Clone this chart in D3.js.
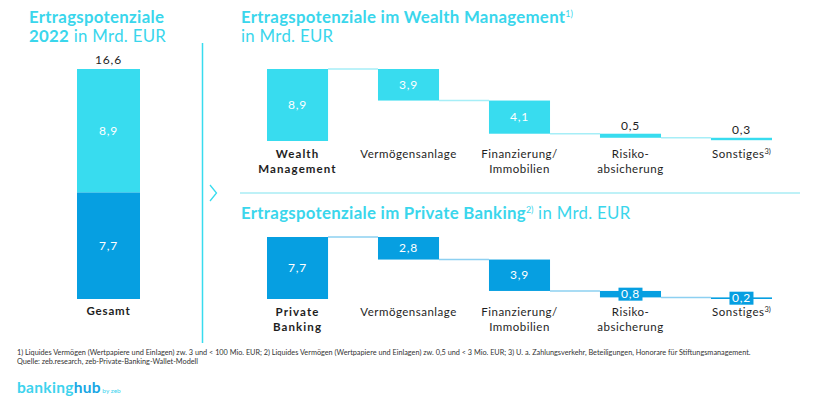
<!DOCTYPE html>
<html>
<head>
<meta charset="utf-8">
<script src="https://cdn.jsdelivr.net/npm/d3@7"></script>
<style>
  html, body { margin: 0; padding: 0; background: #fff; }
  svg { display: block; font-family: Lato, "Open Sans", sans-serif; }
</style>
</head>
<body>
<svg id="chart" width="825" height="413"></svg>
<script>
// ---------- data ----------
const totalSegments = ["Private Banking", "Wealth Management"];
const totalValues = [7.7, 8.9];
const totalLabel = "16,6";
const totalCategory = "Gesamt";

const wmCategories = [["Wealth", "Management"], ["Vermögensanlage"], ["Finanzierung/", "Immobilien"], ["Risiko-", "absicherung"], ["Sonstiges"]];
const wmValues = [8.9, 3.9, 4.1, 0.5, 0.3];

const pbCategories = [["Private", "Banking"], ["Vermögensanlage"], ["Finanzierung/", "Immobilien"], ["Risiko-", "absicherung"], ["Sonstiges"]];
const pbValues = [7.7, 2.8, 3.9, 0.8, 0.2];

const footnoteSup = ["", "", "", "", "3)"];
const footnotes = [
  "1) Liquides Vermögen (Wertpapiere und Einlagen) zw. 3 und < 100 Mio. EUR;  2) Liquides Vermögen (Wertpapiere und Einlagen) zw. 0,5 und < 3 Mio. EUR;  3) U. a. Zahlungsverkehr, Beteiligungen, Honorare für Stiftungsmanagement.",
  "Quelle: zeb.research, zeb-Private-Banking-Wallet-Modell"
];

// ---------- styles ----------
const CYAN = "#38dcef";
const BLUE = "#069fe1";
const TITLE = "#3ad6ec";
const TEXT = "#1e1e1e";
const fmt = v => d3.format(".1f")(v).replace(".", ",");

const svg = d3.select("#chart");

// ---------- left titles ----------
const TS = 16.8, TLS = 0.3;
const lt = svg.append("text").attr("x", 29).attr("y", 23).attr("fill", TITLE).attr("font-size", TS).attr("letter-spacing", TLS);
lt.append("tspan").attr("font-weight", 700).text("Ertragspotenziale");
const lt2 = svg.append("text").attr("x", 29).attr("y", 42).attr("fill", TITLE).attr("font-size", TS).attr("letter-spacing", TLS);
lt2.append("tspan").attr("font-weight", 700).text("2022");
lt2.append("tspan").attr("font-weight", 400).text(" in Mrd. EUR");

// ---------- stacked total bar ----------
const yTot = d3.scaleLinear().domain([0, d3.sum(totalValues)]).range([299, 69]);
const xTot = d3.scaleBand().domain([totalCategory]).range([77, 140]).padding(0);
let acc = 0;
const stack = totalValues.map((v, i) => { const s = { v, y0: acc, y1: acc + v, i }; acc += v; return s; });
const totColors = [BLUE, CYAN];
svg.append("g").selectAll("rect").data(stack).join("rect")
  .attr("x", xTot(totalCategory)).attr("width", xTot.bandwidth())
  .attr("y", d => yTot(d.y1)).attr("height", d => yTot(d.y0) - yTot(d.y1))
  .attr("fill", d => totColors[d.i]);
svg.append("g").selectAll("text").data(stack).join("text")
  .attr("x", xTot(totalCategory) + xTot.bandwidth() / 2)
  .attr("y", d => (yTot(d.y0) + yTot(d.y1)) / 2 + 4)
  .attr("text-anchor", "middle").attr("fill", "#fff").attr("font-size", 12).attr("letter-spacing", 0.8)
  .text(d => fmt(d.v));
svg.append("text").attr("x", xTot(totalCategory) + xTot.bandwidth() / 2).attr("y", yTot(d3.sum(totalValues)) - 5)
  .attr("text-anchor", "middle").attr("fill", TEXT).attr("font-size", 12).attr("letter-spacing", 0.8).text(totalLabel);
svg.append("text").attr("x", xTot(totalCategory) + xTot.bandwidth() / 2).attr("y", 315)
  .attr("text-anchor", "middle").attr("fill", TEXT).attr("font-size", 11.5).attr("font-weight", 700).attr("letter-spacing", 0.8).text(totalCategory);

// divider + chevron
svg.append("line").attr("x1", 202.5).attr("x2", 202.5).attr("y1", 43).attr("y2", 343).attr("stroke", CYAN).attr("stroke-width", 1.5);
svg.append("path").attr("d", "M210,185 L216.5,193 L210,201").attr("fill", "none").attr("stroke", CYAN).attr("stroke-width", 1.3);

// ---------- right titles ----------
const rt = svg.append("text").attr("x", 241).attr("y", 23).attr("fill", TITLE).attr("font-size", TS).attr("letter-spacing", TLS);
rt.append("tspan").attr("font-weight", 700).text("Ertragspotenziale im Wealth Management");
rt.append("tspan").attr("font-size", 9).attr("dy", -6).attr("font-weight", 400).attr("letter-spacing", 0).text("1)");
svg.append("text").attr("x", 241).attr("y", 42).attr("fill", TITLE).attr("font-size", TS).attr("letter-spacing", TLS).text("in Mrd. EUR");

svg.append("line").attr("x1", 240).attr("x2", 800).attr("y1", 193).attr("y2", 193).attr("stroke", "#a9ecf5").attr("stroke-width", 1.5);

const pt = svg.append("text").attr("x", 241).attr("y", 219).attr("fill", TITLE).attr("font-size", TS).attr("letter-spacing", TLS);
pt.append("tspan").attr("font-weight", 700).text("Ertragspotenziale im Private Banking");
pt.append("tspan").attr("font-size", 9).attr("dy", -6).attr("letter-spacing", 0).text("2)");
pt.append("tspan").attr("dy", 6).text(" in Mrd. EUR");

// ---------- waterfall ----------
function waterfall(cats, vals, yBottom, yTop, color, connColor, smallStyle) {
  const keys = cats.map((c, i) => i);
  const x = d3.scaleBand().domain(keys).range([267, 772]).paddingInner(0.45).paddingOuter(0);
  const y = d3.scaleLinear().domain([0, vals[0]]).range([yBottom, yTop]);
  let level = vals[0];
  const bars = vals.map((v, i) => {
    if (i === 0) return { i, v, hi: v, lo: 0 };
    const b = { i, v, hi: level, lo: level - v };
    level -= v;
    return b;
  });
  const g = svg.append("g");
  // connectors
  g.selectAll("line.conn").data(bars.slice(0, -1)).join("line")
    .attr("x1", d => x(d.i) + x.bandwidth()).attr("x2", d => x(d.i + 1))
    .attr("y1", d => y(d.i === 0 ? d.hi : d.lo)).attr("y2", d => y(d.i === 0 ? d.hi : d.lo))
    .attr("stroke", connColor).attr("stroke-width", 1.5);
  g.selectAll("rect.bar").data(bars).join("rect")
    .attr("x", d => x(d.i)).attr("width", x.bandwidth())
    .attr("y", d => y(d.hi)).attr("height", d => Math.max(1.5, y(d.lo) - y(d.hi)))
    .attr("fill", color);
  bars.forEach(d => {
    const cx = x(d.i) + x.bandwidth() / 2;
    const h = y(d.lo) - y(d.hi);
    if (h > 14) {
      g.append("text").attr("x", cx).attr("y", (y(d.lo) + y(d.hi)) / 2 + 4)
        .attr("text-anchor", "middle").attr("fill", "#fff").attr("font-size", 12).attr("letter-spacing", 0.8)
        .text(fmt(d.v));
    } else if (smallStyle === "above") {
      g.append("text").attr("x", cx).attr("y", y(d.hi) - 4)
        .attr("text-anchor", "middle").attr("fill", TEXT).attr("font-size", 12).attr("letter-spacing", 0.8)
        .text(fmt(d.v));
    } else {
      const my = (y(d.lo) + y(d.hi)) / 2;
      g.append("rect").attr("x", cx - 12).attr("y", my - 6.5).attr("width", 24).attr("height", 13).attr("fill", color);
      g.append("text").attr("x", cx).attr("y", my + 4.3)
        .attr("text-anchor", "middle").attr("fill", "#fff").attr("font-size", 12).attr("letter-spacing", 0.8)
        .text(fmt(d.v));
    }
  });
  // category labels
  cats.forEach((lines, i) => {
    const cx = x(i) + x.bandwidth() / 2;
    lines.forEach((ln, j) => {
      const t = g.append("text").attr("x", cx).attr("y", yBottom + 17 + j * 15)
        .attr("text-anchor", "middle").attr("fill", TEXT).attr("font-size", 11.5)
        .attr("font-weight", i === 0 ? 700 : 400).attr("letter-spacing", i === 0 ? 1.1 : 0.5);
      t.append("tspan").text(ln);
      if (footnoteSup[i] && j === lines.length - 1) {
        t.append("tspan").attr("font-size", 7.5).attr("dy", -4).attr("letter-spacing", 0).text(footnoteSup[i]);
      }
    });
  });
}
waterfall(wmCategories, wmValues, 141, 69, CYAN, "#a6eef7", "above");
waterfall(pbCategories, pbValues, 299, 237, BLUE, "#8dd0f1", "box");

// ---------- footnotes ----------
footnotes.forEach((f, i) => {
  svg.append("text").attr("x", 17).attr("y", 355 + i * 9).attr("fill", "#333").attr("font-size", 7.3).text(f);
});

// ---------- logo ----------
const logo = svg.append("text").attr("x", 17).attr("y", 393).attr("font-size", 15.5).attr("font-weight", 700).attr("letter-spacing", 0.3);
logo.append("tspan").attr("fill", "#3dd3ee").text("banking");
logo.append("tspan").attr("fill", "#17a6e4").text("hub");
logo.append("tspan").attr("fill", "#3dd3ee").attr("font-size", 6.5).attr("font-weight", 400).attr("letter-spacing", 0).attr("dx", 1.5).text("by zeb");
</script>
</body>
</html>
